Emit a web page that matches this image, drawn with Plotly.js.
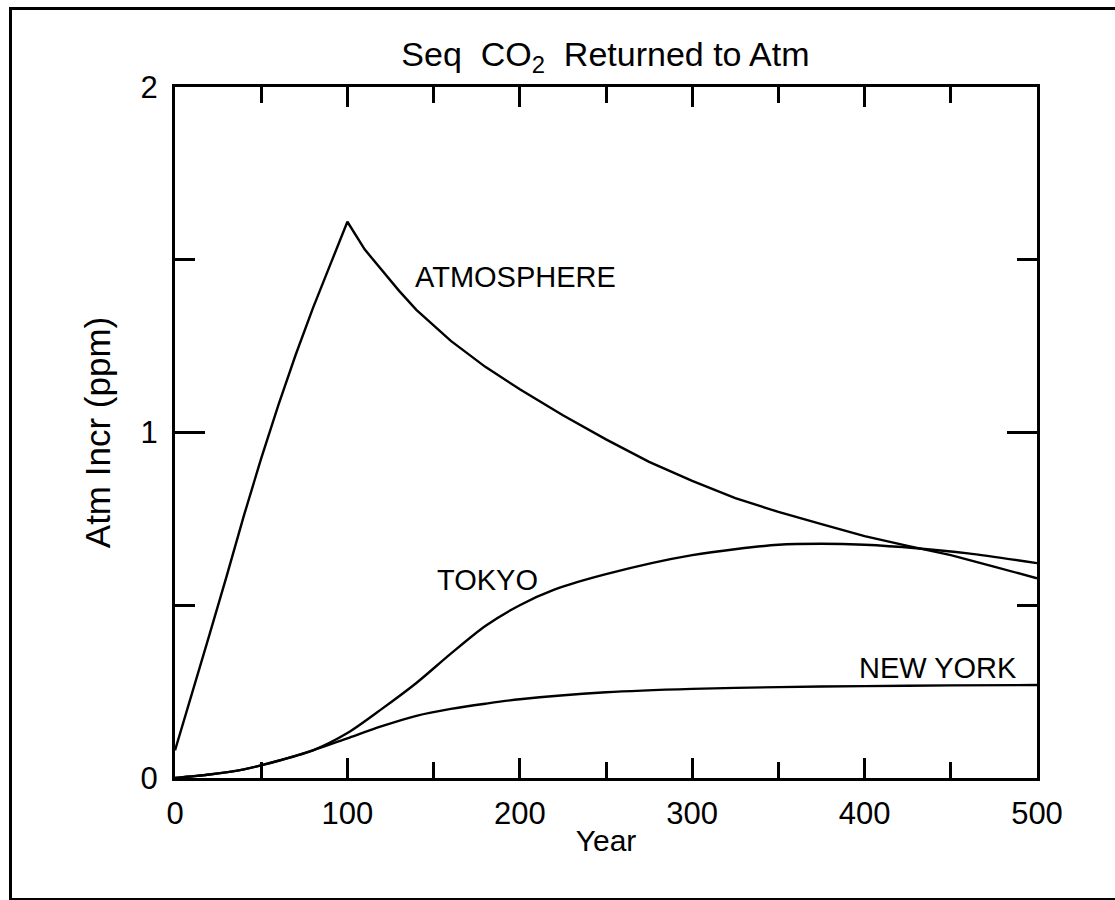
<!DOCTYPE html>
<html>
<head>
<meta charset="utf-8">
<script src="https://cdn.plot.ly/plotly-3.0.1.min.js"></script>
<style>
  html, body { margin: 0; padding: 0; background: #fff; }
  #wrap { position: relative; width: 1115px; height: 900px; overflow: hidden; }
  #chart { position: absolute; left: 0; top: 0; width: 1115px; height: 900px; }
  #frame { position: absolute; left: 9px; top: 7px; width: 1120px; height: 888px;
           border-left: 3px solid #000; border-top: 3px solid #000; border-bottom: 3px solid #000;
           pointer-events: none; }
</style>
</head>
<body>
<div id="wrap">
  <div id="chart"></div>
  <div id="frame"></div>
</div>
<script>
// Atmosphere
const atmYears = [0, 10, 20, 30, 40, 50, 60, 70, 80, 90, 100, 110, 120, 130, 140, 160, 180, 200, 225, 250, 275, 300, 325, 350, 375, 400, 425, 450, 475, 500];
const atmValues = [0.08, 0.245, 0.415, 0.585, 0.76, 0.925, 1.08, 1.225, 1.36, 1.485, 1.61, 1.53, 1.47, 1.41, 1.355, 1.265, 1.19, 1.125, 1.05, 0.98, 0.915, 0.86, 0.81, 0.77, 0.735, 0.70, 0.672, 0.645, 0.612, 0.578];
// Tokyo
const tokyoYears = [0, 20, 40, 60, 80, 100, 120, 140, 160, 180, 200, 220, 250, 300, 350, 375, 400, 430, 460, 500];
const tokyoValues = [0, 0.01, 0.025, 0.05, 0.08, 0.13, 0.2, 0.275, 0.36, 0.44, 0.5, 0.545, 0.59, 0.645, 0.675, 0.678, 0.675, 0.665, 0.65, 0.622];
// New York
const nyYears = [0, 20, 40, 60, 80, 100, 120, 140, 160, 180, 200, 250, 300, 350, 400, 450, 500];
const nyValues = [0, 0.01, 0.025, 0.05, 0.08, 0.115, 0.15, 0.18, 0.2, 0.215, 0.228, 0.248, 0.258, 0.263, 0.266, 0.268, 0.269];

const labels = [
  {text: 'ATMOSPHERE', x: 197.5, y: 1.449},
  {text: 'TOKYO', x: 181.5, y: 0.573},
  {text: 'NEW YORK', x: 442.5, y: 0.318}
];

const lineStyle = {color: '#000', width: 2.4};
const traces = [
  {x: atmYears, y: atmValues, mode: 'lines', line: Object.assign({shape: 'linear'}, lineStyle), name: 'ATMOSPHERE'},
  {x: tokyoYears, y: tokyoValues, mode: 'lines', line: Object.assign({shape: 'spline', smoothing: 0.8}, lineStyle), name: 'TOKYO'},
  {x: nyYears, y: nyValues, mode: 'lines', line: Object.assign({shape: 'spline', smoothing: 0.8}, lineStyle), name: 'NEW YORK'}
];

const font = {family: '"Liberation Sans", Arial, Helvetica, sans-serif', color: '#000'};

const layout = {
  width: 1115, height: 900,
  margin: {l: 175, r: 78, t: 87, b: 122},
  paper_bgcolor: '#fff', plot_bgcolor: '#fff',
  showlegend: false,
  font: Object.assign({size: 30}, font),
  title: {text: 'Seq  CO<sub>2</sub>  Returned to Atm', x: 0.543, xanchor: 'center', y: 0.94, yanchor: 'middle',
          font: Object.assign({size: 34}, font)},
  xaxis: {
    range: [0, 500], dtick: 100, tick0: 0,
    showline: true, linewidth: 3, linecolor: '#000', mirror: 'ticks',
    ticks: 'inside', ticklen: 20, tickwidth: 3, tickcolor: '#000',
    minor: {dtick: 50, ticks: 'inside', ticklen: 16, tickwidth: 3, tickcolor: '#000'},
    showgrid: false, zeroline: false,
    ticklabelstandoff: 6,
    tickfont: Object.assign({size: 31}, font),
    title: {text: 'Year', font: Object.assign({size: 30}, font), standoff: 0}
  },
  yaxis: {
    range: [0, 2], dtick: 1, tick0: 0,
    showline: true, linewidth: 3, linecolor: '#000', mirror: 'ticks',
    ticks: 'inside', ticklen: 30, tickwidth: 3, tickcolor: '#000',
    minor: {dtick: 0.5, ticks: 'inside', ticklen: 20, tickwidth: 3, tickcolor: '#000'},
    showgrid: false, zeroline: false,
    ticklabelstandoff: 8,
    tickfont: Object.assign({size: 31}, font),
    title: {text: 'Atm Incr (ppm)', font: Object.assign({size: 35}, font), standoff: 20}
  },
  annotations: labels.map(l => ({
    text: l.text, x: l.x, y: l.y, xref: 'x', yref: 'y', showarrow: false,
    font: Object.assign({size: 29}, font)
  }))
};

Plotly.newPlot('chart', traces, layout, {staticPlot: true, displayModeBar: false});
</script>
</body>
</html>
